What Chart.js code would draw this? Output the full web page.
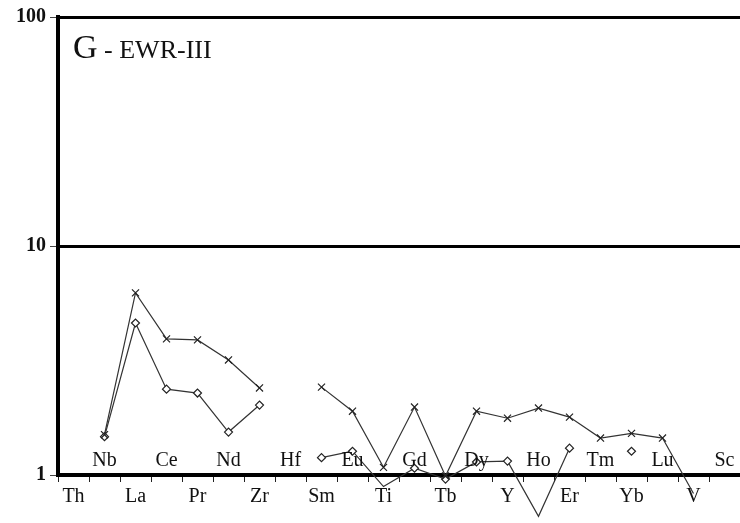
<!DOCTYPE html>
<html>
<head>
<meta charset="utf-8">
<script src="https://cdn.jsdelivr.net/npm/chart.js@4/dist/chart.umd.min.js"></script>
<style>
  html, body { margin: 0; padding: 0; background: #fff; }
  #wrap { width: 740px; height: 523px; }
</style>
</head>
<body>
<div id="wrap"><canvas id="myChart"></canvas></div>
<script>
// elements in spider-diagram order
const elements = ['Th','Nb','La','Ce','Pr','Nd','Zr','Hf','Sm','Eu','Ti','Gd','Tb','Dy','Y','Ho','Er','Tm','Yb','Lu','V','Sc'];
// normalised values (crosses / diamonds), null = not plotted
const crossValues = [null,1.50,6.24,3.93,3.89,3.18,2.40,null,2.42,1.90,1.08,1.98,0.99,1.90,1.77,1.96,1.79,1.45,1.52,1.45,0.83,null];
const diamondValues = [null,1.47,4.61,2.37,2.28,1.54,2.02,null,1.19,1.27,0.89,1.07,0.96,1.14,1.15,0.66,1.31,null,1.27,null,null,null];
const yTicks = [1, 10, 100];
const panelTitle = 'G';
const panelSubtitle = ' - EWR-III';

const serif = "'Liberation Serif', 'DejaVu Serif', serif";

// odd elements are written in a second row, just above the x axis
const upperRowLabels = {
  id: 'upperRowLabels',
  afterDraw(chart) {
    const ctx = chart.ctx;
    const x = chart.scales.x;
    const area = chart.chartArea;
    ctx.save();
    ctx.font = '20px ' + serif;
    ctx.fillStyle = '#111';
    ctx.textAlign = 'center';
    ctx.textBaseline = 'alphabetic';
    elements.forEach((el, i) => {
      if (i % 2 === 1) ctx.fillText(el, x.getPixelForValue(i), area.bottom - 9);
    });
    // panel title
    ctx.textAlign = 'left';
    ctx.font = '34px ' + serif;
    ctx.fillText(panelTitle, area.left + 15, area.top + 41);
    const w = ctx.measureText(panelTitle).width;
    ctx.font = '26px ' + serif;
    ctx.fillText(panelSubtitle, area.left + 15 + w, area.top + 41);
    ctx.restore();
  }
};

new Chart(document.getElementById('myChart'), {
  type: 'line',
  data: {
    labels: elements,
    datasets: [{
      label: 'x',
      data: crossValues,
      borderColor: '#333',
      borderWidth: 1.2,
      pointStyle: 'crossRot',
      pointRadius: 5,
      pointBorderColor: '#222',
      pointBorderWidth: 1.2,
      spanGaps: false,
      clip: false,
      tension: 0
    }, {
      label: 'diamond',
      data: diamondValues,
      borderColor: '#333',
      borderWidth: 1.2,
      pointStyle: 'rectRot',
      pointRadius: 4,
      pointBackgroundColor: '#fff',
      pointBorderColor: '#222',
      pointBorderWidth: 1.2,
      spanGaps: false,
      clip: false,
      tension: 0
    }]
  },
  options: {
    responsive: true,
    maintainAspectRatio: false,
    animation: false,
    layout: { autoPadding: false, padding: { top: 17, right: 0, left: 0, bottom: 0 } },
    plugins: { legend: { display: false }, tooltip: { enabled: false } },
    scales: {
      x: {
        type: 'category',
        offset: true,
        grid: {
          offset: true,
          drawOnChartArea: false,
          drawTicks: true,
          tickLength: 7,
          tickColor: '#222',
          tickWidth: 1
        },
        border: { display: true, color: '#000', width: 4 },
        ticks: {
          autoSkip: false,
          maxRotation: 0,
          padding: 3,
          color: '#111',
          font: { family: serif, size: 20 },
          callback: (v, i) => (i % 2 === 0 ? elements[i] : '')
        },
        afterFit: s => { s.height = 48; s.paddingRight = 0; s.paddingLeft = 0; }
      },
      y: {
        type: 'logarithmic',
        min: 1,
        max: 100,
        afterBuildTicks: s => { s.ticks = yTicks.map(v => ({ value: v })); },
        grid: {
          color: '#000',
          lineWidth: 3,
          drawTicks: true,
          tickLength: 8,
          tickColor: '#444',
          tickWidth: 1
        },
        border: { display: true, color: '#000', width: 4 },
        ticks: {
          padding: 4,
          color: '#111',
          font: { family: serif, size: 20, weight: 'bold' },
          callback: v => String(v)
        },
        afterFit: s => { s.width = 58; }
      }
    }
  },
  plugins: [upperRowLabels]
});
</script>
</body>
</html>
